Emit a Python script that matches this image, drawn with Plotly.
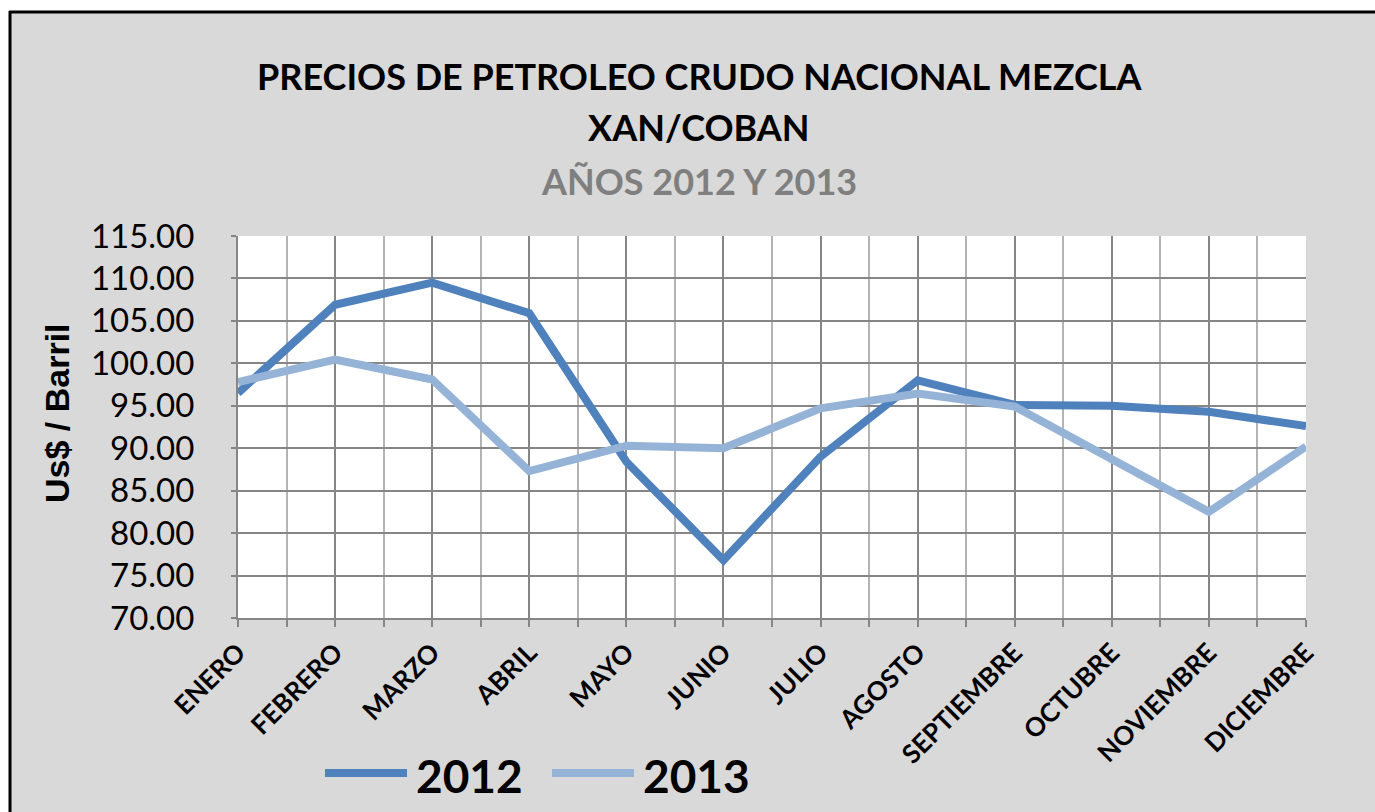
import plotly.graph_objects as go

# ---------------- data ----------------
months = ["ENERO", "FEBRERO", "MARZO", "ABRIL", "MAYO", "JUNIO", "JULIO",
          "AGOSTO", "SEPTIEMBRE", "OCTUBRE", "NOVIEMBRE", "DICIEMBRE"]
prices_2012 = [96.5, 106.9, 109.5, 105.9, 88.4, 76.8, 89.0, 98.0, 95.1, 95.0, 94.3, 92.6]
prices_2013 = [97.8, 100.45, 98.1, 87.3, 90.3, 90.0, 94.7, 96.45, 94.9, 88.6, 82.5, 90.2]
series_names = ["2012", "2013"]
y_ticks = [70, 75, 80, 85, 90, 95, 100, 105, 110, 115]
title_lines = ["PRECIOS DE PETROLEO CRUDO NACIONAL MEZCLA", "XAN/COBAN", "AÑOS 2012 Y 2013"]
y_title = "Us$ / Barril"

# ---------------- layout geometry ----------------
W, H = 1375, 812
L, R, T, B = 238, 69, 236, 194
PW, PH = W - L - R, H - T - B


def px2x(px):
    return (px - L) / PW


def py2y(py):
    return (H - B - py) / PH


colors = ["#4f81bd", "#95b3d7"]
series_vals = [prices_2012, prices_2013]
x_idx = list(range(len(months)))

fig = go.Figure()
for name, vals, col in zip(series_names, series_vals, colors):
    fig.add_trace(go.Scatter(x=x_idx, y=vals, name=name, mode="lines",
                             line=dict(color=col, width=8), showlegend=False))

grid_dark = "#868686"
grid_light = "#b4b4b4"

fig.update_xaxes(
    type="linear", range=[0, len(months) - 1],
    tickmode="array", tickvals=x_idx, ticktext=months, tickangle=-45,
    tickfont=dict(family="Lato", size=26, color="black", weight="bold"),
    showgrid=True, gridcolor=grid_dark, gridwidth=2,
    showline=True, linecolor=grid_dark, linewidth=2,
    ticks="outside", ticklen=7, tickcolor=grid_dark, tickwidth=2,
    minor=dict(dtick=0.5, tick0=0, showgrid=True, gridcolor=grid_light, gridwidth=2,
               ticks="outside", ticklen=7, tickcolor=grid_dark, tickwidth=2),
    zeroline=False, automargin=False, fixedrange=True,
)
fig.update_yaxes(
    range=[y_ticks[0], y_ticks[-1]], tickmode="array", tickvals=y_ticks,
    tickformat=".2f",
    tickfont=dict(family="Lato", size=33, color="black"),
    showgrid=True, gridcolor=grid_dark, gridwidth=2,
    showline=True, linecolor=grid_dark, linewidth=2,
    ticks="outside", ticklen=5, tickcolor=grid_dark, tickwidth=2,
    ticklabelstandoff=30,
    zeroline=False, automargin=False, fixedrange=True,
)

shapes = [
    # white strips outside the chart frame
    dict(type="rect", xref="paper", yref="paper", x0=px2x(-10), x1=px2x(W + 10),
         y0=py2y(11), y1=py2y(-10), fillcolor="white", line=dict(width=0), layer="above"),
    dict(type="rect", xref="paper", yref="paper", x0=px2x(-10), x1=px2x(9),
         y0=py2y(H + 10), y1=py2y(-10), fillcolor="white", line=dict(width=0), layer="above"),
    # black frame
    dict(type="line", xref="paper", yref="paper", x0=px2x(9), x1=px2x(W + 10),
         y0=py2y(12), y1=py2y(12), line=dict(color="black", width=3), layer="above"),
    dict(type="line", xref="paper", yref="paper", x0=px2x(10), x1=px2x(10),
         y0=py2y(11), y1=py2y(H + 10), line=dict(color="black", width=3), layer="above"),
]

annotations = []
# title lines
title_y = [76, 127, 181]
title_col = ["black", "black", "#7f7f7f"]
for txt, ty, tc in zip(title_lines, title_y, title_col):
    annotations.append(dict(text=txt, xref="paper", yref="paper", x=px2x(699), y=py2y(ty),
                            xanchor="center", yanchor="middle", showarrow=False,
                            font=dict(family="Lato", size=36, color=tc, weight="bold")))
# y-axis title
annotations.append(dict(text=y_title, xref="paper", yref="paper", x=px2x(57), y=py2y(413),
                        xanchor="center", yanchor="middle", textangle=-90, showarrow=False,
                        font=dict(family="Liberation Sans", size=34, color="black", weight="bold")))

# custom legend
leg_x = [325, 552]
leg_y = 773
for name, col, lx in zip(series_names, colors, leg_x):
    shapes.append(dict(type="line", xref="paper", yref="paper", x0=px2x(lx), x1=px2x(lx + 82),
                       y0=py2y(leg_y), y1=py2y(leg_y), line=dict(color=col, width=8)))
    annotations.append(dict(text=name, xref="paper", yref="paper", x=px2x(lx + 89), y=py2y(leg_y + 2),
                            xanchor="left", yanchor="middle", showarrow=False,
                            font=dict(family="Lato", size=46, color="black", weight="bold")))

fig.update_layout(
    width=W, height=H,
    margin=dict(l=L, r=R, t=T, b=B, autoexpand=False),
    paper_bgcolor="#d9d9d9", plot_bgcolor="white",
    shapes=shapes, annotations=annotations,
    showlegend=False,
    font=dict(family="Lato", color="black"),
)

fig.write_html("out.html",
               config={"displayModeBar": False},
               post_script="document.body.style.margin='0px';document.body.style.overflow='hidden';")
